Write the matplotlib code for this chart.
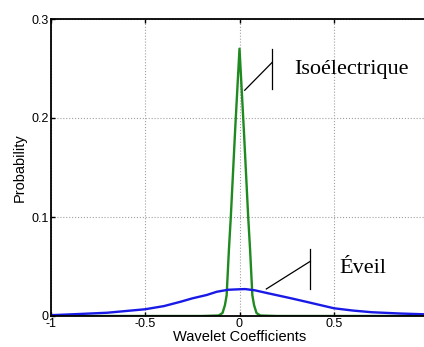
import numpy as np
import matplotlib
matplotlib.use("Agg")
import matplotlib.pyplot as plt

# distribution des coefficients d'ondelettes
eveil_x = [-1.0, -0.85, -0.7, -0.5, -0.4, -0.31, -0.25, -0.174, -0.12, -0.06, 0.0, 0.03,
           0.08, 0.15, 0.27, 0.35, 0.5, 0.6, 0.7, 0.85, 1.0]
eveil_y = [0.0008, 0.002, 0.0033, 0.0068, 0.010, 0.0145, 0.0178, 0.0212, 0.0245, 0.0265, 0.027, 0.0272,
           0.026, 0.023, 0.018, 0.0145, 0.0078, 0.0055, 0.0038, 0.0025, 0.0016]

iso_x = [-1.0, -0.2, -0.11, -0.09, -0.077, -0.068, -0.056, -0.046, -0.023, 0.0,
         0.023, 0.046, 0.056, 0.068, 0.077, 0.09, 0.11, 0.2, 1.0]
iso_y = [0, 0, 0.0005, 0.003, 0.011, 0.021, 0.067, 0.1, 0.188, 0.27,
         0.188, 0.1, 0.067, 0.021, 0.011, 0.003, 0.0005, 0, 0]

xticks = [-1, -0.5, 0, 0.5]
xticklabels = ["-1", "-0.5", "0", "0.5"]
yticks = [0, 0.1, 0.2, 0.3]
yticklabels = ["0", "0.1", "0.2", "0.3"]

plt.rcParams["font.family"] = ["Liberation Sans", "DejaVu Sans"]

fig = plt.figure(figsize=(4.24, 3.47), dpi=100)
ax = fig.add_axes([50.5 / 424, 31 / 347, 378 / 424, 297 / 347])

ax.plot(iso_x, iso_y, color="#1f8a1f", lw=1.7)
ax.plot(eveil_x, eveil_y, color="#1a1ae6", lw=1.7)

ax.set_xlim(-1, 1)
ax.set_ylim(0, 0.3)
ax.set_xticks(xticks)
ax.set_xticklabels(xticklabels)
ax.set_yticks(yticks)
ax.set_yticklabels(yticklabels)
ax.tick_params(direction="in", length=3, width=1, labelsize=9, pad=1.5, top=True, right=True)
ax.grid(True, linestyle=":", color="#a0a0a0", linewidth=0.8)
for s in ax.spines.values():
    s.set_linewidth(1.3)

ax.set_xlabel("Wavelet Coefficients", fontsize=10.5, labelpad=0)
ax.set_ylabel("Probability", fontsize=10.5, labelpad=3)

# annotations
ax.plot([0.172, 0.172], [0.229, 0.2694], color="black", lw=0.9)
ax.plot([0.0275, 0.172], [0.228, 0.256], color="black", lw=0.9)
ax.text(0.292, 0.2485, "Isoélectrique", family="Liberation Serif", fontsize=16, va="center")

ax.plot([0.375, 0.375], [0.0273, 0.0677], color="black", lw=0.9)
ax.plot([0.142, 0.375], [0.0273, 0.0553], color="black", lw=0.9)
ax.text(0.53, 0.0475, "Éveil", family="Liberation Serif", fontsize=16, va="center")

fig.savefig("out.png", dpi=100)
